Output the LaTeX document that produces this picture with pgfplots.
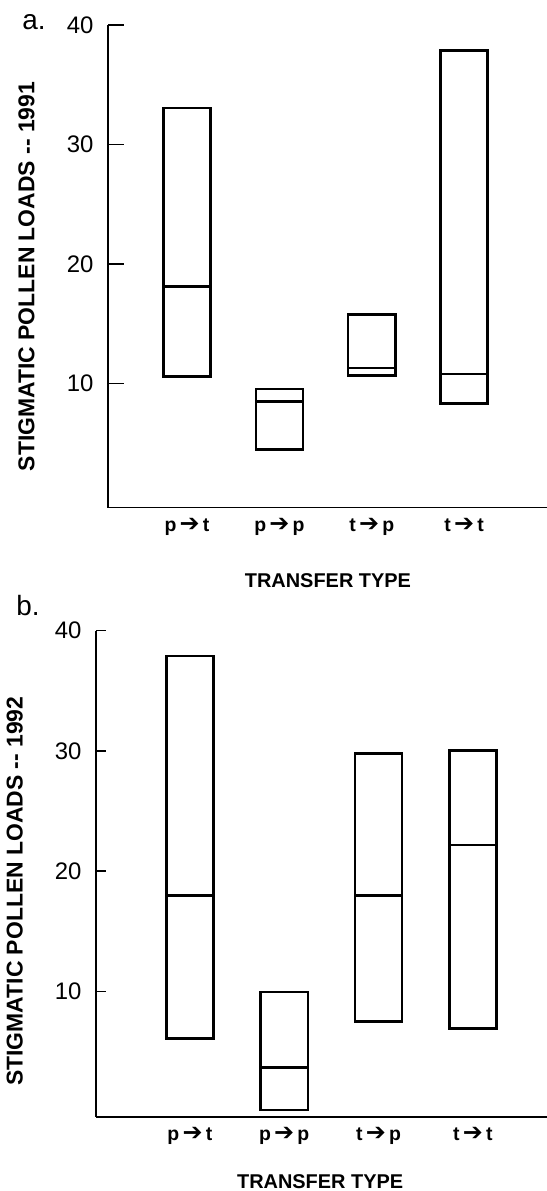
\documentclass[border=0pt]{standalone}
\usepackage{fontspec}
\setmainfont{Liberation Sans}
\newfontfamily\arrowfont{DejaVu Sans}
\usepackage{pgfplots}
\pgfplotsset{compat=1.18}
\usepgfplotslibrary{statistics}

% transfer type label: donor -> recipient
\newcommand{\tr}[2]{#1\,{\arrowfont\bfseries\fontsize{24}{24}\selectfont ➔}\,#2}

\pgfplotsset{
  pollen/.style={
    scale only axis, clip=false,
    boxplot/draw direction=y,
    axis x line*=bottom, axis y line*=left,
    axis line style={-, line width=1.6bp},
    ymin=-0.4, ymax=40, ytick={10,20,30,40},
    xtick={1,2,3,4},
    xticklabels={\tr{p}{t},\tr{p}{p},\tr{t}{p},\tr{t}{t}},
    x tick style={draw=none},
    y tick style={line width=1.6bp, black},
    tick align=inside,
    /pgf/number format/assume math mode=true,
    yticklabel style={font=\fontsize{24}{24}\selectfont, xshift=-11bp},
    xticklabel style={font=\fontsize{19.5}{19.5}\selectfont\bfseries,
      text height=14bp, text depth=4bp, yshift=-6bp},
    xlabel={TRANSFER TYPE},
    xlabel style={font=\fontsize{20}{20}\selectfont\bfseries},
    ylabel style={font=\fontsize{23}{23}\selectfont\bfseries},
  },
  pbox/.style={draw=black, line width=2.5bp, solid},
}

\begin{document}
\begin{tikzpicture}
\useasboundingbox (0,0) rectangle (547bp,1191bp);

% ---- panel a: 1991
\begin{axis}[pollen, at={(108bp,683.3bp)}, anchor=south west,
  width=439bp, height=482.7bp, xmin=0.1447, xmax=4.897,
  major tick length=16bp,
  xlabel style={at={(axis description cs:0.501,0)}, anchor=center, yshift=-73bp},
  ylabel={STIGMATIC POLLEN LOADS -{}- 1991},
  ylabel style={at={(axis description cs:-0.1857,0.479)}, anchor=center}]
\addplot[pbox, boxplot prepared={draw position=1, box extend=0.51,
  lower whisker=10.6, lower quartile=10.6, median=18.1,
  upper quartile=33.05, upper whisker=33.05}] coordinates {};
\addplot[pbox, boxplot prepared={draw position=2, box extend=0.51,
  lower whisker=4.45, lower quartile=4.45, median=8.5,
  upper quartile=9.52, upper whisker=9.52}] coordinates {};
\addplot[pbox, boxplot prepared={draw position=3, box extend=0.51,
  lower whisker=10.67, lower quartile=10.67, median=11.3,
  upper quartile=15.75, upper whisker=15.75}] coordinates {};
\addplot[pbox, boxplot prepared={draw position=4, box extend=0.51,
  lower whisker=8.3, lower quartile=8.3, median=10.8,
  upper quartile=37.85, upper whisker=37.85}] coordinates {};
\end{axis}

% ---- panel b: 1992
\begin{axis}[pollen, at={(96bp,74.3bp)}, anchor=south west,
  width=451bp, height=486bp, xmin=0.005, xmax=4.786,
  major tick length=10bp,
  xlabel style={at={(axis description cs:0.497,0)}, anchor=center, yshift=-65bp},
  ylabel={STIGMATIC POLLEN LOADS -{}- 1992},
  ylabel style={at={(axis description cs:-0.18,0.464)}, anchor=center}]
\addplot[pbox, boxplot prepared={draw position=1, box extend=0.5,
  lower whisker=6.1, lower quartile=6.1, median=18.0,
  upper quartile=37.9, upper whisker=37.9}] coordinates {};
\addplot[pbox, boxplot prepared={draw position=2, box extend=0.5,
  lower whisker=0.17, lower quartile=0.17, median=3.7,
  upper quartile=9.95, upper whisker=9.95}] coordinates {};
\addplot[pbox, boxplot prepared={draw position=3, box extend=0.5,
  lower whisker=7.5, lower quartile=7.5, median=18.0,
  upper quartile=29.8, upper whisker=29.8}] coordinates {};
\addplot[pbox, boxplot prepared={draw position=4, box extend=0.5,
  lower whisker=6.95, lower quartile=6.95, median=22.2,
  upper quartile=30.06, upper whisker=30.06}] coordinates {};
\end{axis}

\node[font=\fontsize{28}{28}\selectfont] at (34bp,1169bp) {a.};
\node[font=\fontsize{28}{28}\selectfont] at (28bp,585bp) {b.};
\end{tikzpicture}
\end{document}
